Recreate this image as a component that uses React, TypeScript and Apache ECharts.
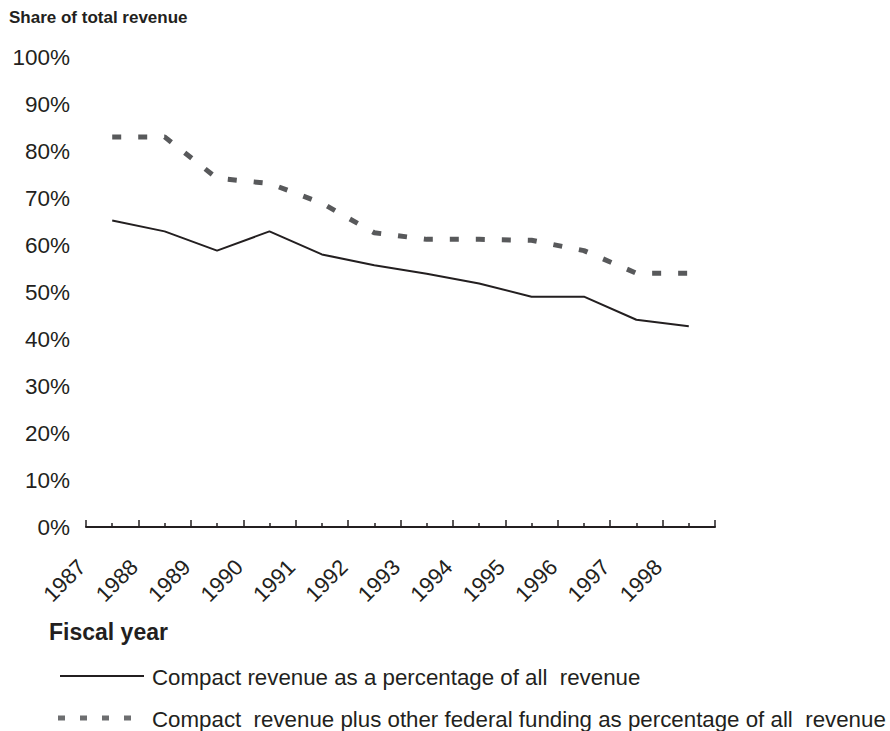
import React, { useEffect, useRef } from "react";
import * as echarts from "echarts";

const years = ["1987", "1988", "1989", "1990", "1991", "1992", "1993", "1994", "1995", "1996", "1997", "1998"];
const compactShare = [65.2, 62.9, 58.8, 62.9, 58.0, 55.7, 53.9, 51.8, 49.0, 49.0, 44.1, 42.7];
const compactPlusFederal = [83.0, 83.0, 74.2, 73.1, 68.9, 62.6, 61.2, 61.2, 61.0, 58.8, 54.0, 54.0];
const seriesNames = [
  "Compact revenue as a percentage of all  revenue",
  "Compact  revenue plus other federal funding as percentage of all  revenue",
];
const yTicks = [0, 10, 20, 30, 40, 50, 60, 70, 80, 90, 100];

const FONT = "'Liberation Sans', Arial, Helvetica, sans-serif";
const INK = "#231f20";
const GREY = "#58595b";

export default function App() {
  const ref = useRef<HTMLDivElement>(null);
  useEffect(() => {
    if (!ref.current) return;
    const chart = echarts.init(ref.current, undefined, { renderer: "svg" });
    const toPts = (arr: number[]) => arr.map((v, i) => [i + 0.5, v]);
    chart.setOption({
      animation: false,
      backgroundColor: "#ffffff",
      textStyle: { fontFamily: FONT },
      grid: { left: 86, right: 175, top: 57, bottom: 204 },
      xAxis: {
        type: "value",
        min: 0,
        max: years.length,
        interval: 1,
        axisLine: { show: true, lineStyle: { color: INK, width: 2 } },
        axisTick: { show: true, inside: true, length: 7, lineStyle: { color: INK, width: 1.5 } },
        minorTick: { show: true, splitNumber: 2, length: 4, lineStyle: { color: INK, width: 1.5 } },
        splitLine: { show: false },
        minorSplitLine: { show: false },
        axisLabel: {
          rotate: 45,
          margin: 32,
          padding: [0, 6, 0, 0],
          fontSize: 22,
          color: INK,
          fontFamily: FONT,
          formatter: (v: number) => (v < years.length ? years[Math.round(v)] : ""),
        },
      },
      yAxis: {
        type: "value",
        min: yTicks[0],
        max: yTicks[yTicks.length - 1],
        interval: 10,
        axisLine: { show: false },
        axisTick: { show: false },
        splitLine: { show: false },
        axisLabel: { formatter: "{value}%", fontSize: 22.5, color: INK, margin: 16, fontFamily: FONT },
      },
      series: [
        {
          name: seriesNames[0],
          type: "line",
          data: toPts(compactShare),
          symbol: "none",
          lineStyle: { color: INK, width: 2 },
        },
        {
          name: seriesNames[1],
          type: "line",
          data: toPts(compactPlusFederal),
          symbol: "none",
          lineStyle: { color: GREY, width: 5, type: [9, 17] },
        },
      ],
      graphic: [
        {
          type: "text",
          left: 9,
          top: 9,
          style: { text: "Share of total revenue", font: `bold 17px ${FONT}`, fill: INK },
        },
        {
          type: "text",
          left: 49,
          top: 620,
          style: { text: "Fiscal year", font: `bold 23px ${FONT}`, fill: INK },
        },
        {
          type: "line",
          shape: { x1: 60, y1: 676, x2: 144, y2: 676 },
          style: { stroke: INK, lineWidth: 2 },
        },
        {
          type: "text",
          x: 152,
          y: 677,
          style: { text: seriesNames[0], font: `22.3px ${FONT}`, fill: INK, verticalAlign: "middle" },
        },
        {
          type: "line",
          shape: { x1: 58, y1: 718, x2: 143, y2: 718 },
          style: { stroke: "#6d6e70", lineWidth: 5, lineDash: [7, 15] },
        },
        {
          type: "text",
          x: 152,
          y: 719,
          style: { text: seriesNames[1], font: `22.3px ${FONT}`, fill: INK, verticalAlign: "middle" },
        },
      ],
    });
    return () => chart.dispose();
  }, []);
  return <div ref={ref} style={{ position: "fixed", left: 0, top: 0, width: 890, height: 731 }} />;
}
